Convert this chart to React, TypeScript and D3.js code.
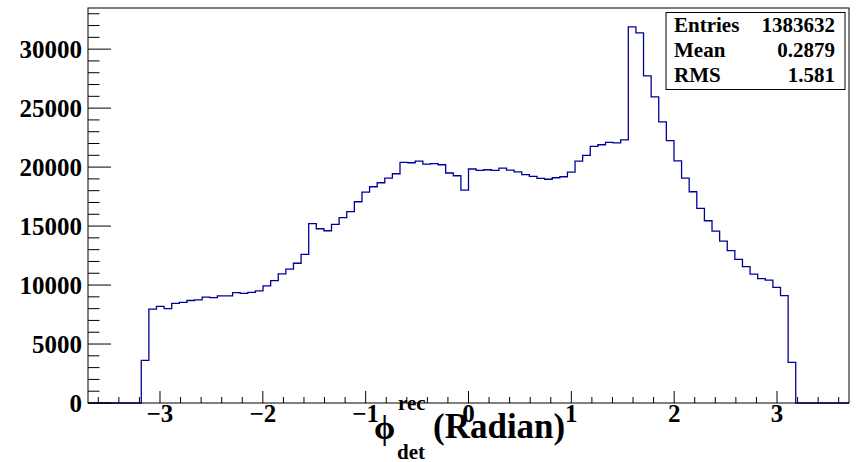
import React from "react";
import * as d3 from "d3";

const xMin = -3.7;
const xMax = 3.7;
const nBins = 100;
const firstBin = 7;
const binValues = [
  3616, 7966, 8200, 7994, 8446, 8531, 8690, 8740, 8970, 8930,
  9080, 9080, 9350, 9294, 9379, 9510, 9925, 10380, 10945, 11350,
  11850, 12599, 15210, 14774, 14604, 15141, 15720, 16230, 17062, 17881,
  18333, 18672, 19068, 19435, 20395, 20367, 20508, 20254, 20290, 20198,
  19500, 19265, 18051, 19840, 19718, 19774, 19718, 19915, 19740, 19600,
  19360, 19220, 19040, 18970, 19096, 19181, 19576, 20508, 20989, 21751,
  21893, 22100, 22045, 22300, 31893, 31384, 27737, 25950, 23842, 22240,
  20520, 19068, 17910, 16497, 15452, 14576, 13729, 12910, 12175, 11554,
  10932, 10537, 10424, 9802, 9096, 3446,
];
const yMax = 33488;
const yMajorTicks = [0, 5000, 10000, 15000, 20000, 25000, 30000];
const yTickLabels = ["0", "5000", "10000", "15000", "20000", "25000", "30000"];
const xMajorTicks = [-3, -2, -1, 0, 1, 2, 3];
const xTickLabels = ["\u22123", "\u22122", "\u22121", "0", "1", "2", "3"];
const statNames = ["Entries", "Mean", "RMS"];
const statValues = ["1383632", "0.2879", "1.581"];

const W = 858;
const H = 462;
const L = 88, R = 849, T = 8, B = 403;
const FONT = "'Liberation Serif', 'Times New Roman', serif";

export default function App() {
  const x = d3.scaleLinear().domain([xMin, xMax]).range([L, R]);
  const y = d3.scaleLinear().domain([0, yMax]).range([B, T]);
  const bw = (xMax - xMin) / nBins;
  const counts: number[] = d3.range(nBins).map((k) => {
    const i = k - firstBin;
    return i >= 0 && i < binValues.length ? binValues[i] : 0;
  });
  const pts: [number, number][] = [];
  counts.forEach((v, k) => {
    pts.push([xMin + k * bw, v]);
    pts.push([xMin + (k + 1) * bw, v]);
  });
  const line = d3
    .line<[number, number]>()
    .x((d) => x(d[0]))
    .y((d) => y(d[1]));
  const path = line(pts) || "";

  const yMinor = d3.range(0, yMax, 1000);
  const xMinor = d3.range(-18, 19).map((i) => i * 0.2).filter((v) => v > xMin && v < xMax);

  return (
    <svg
      width={W}
      height={H}
      style={{ position: "absolute", left: 0, top: 0, background: "#fff" }}
    >
      <rect x={0} y={0} width={W} height={H} fill="#fff" />
      <path d={path} fill="none" stroke="#000099" strokeWidth={1.3} />
      <rect x={L} y={T} width={R - L} height={B - T} fill="none" stroke="#000" strokeWidth={1} />
      {yMinor.map((v) => (
        <line key={"ym" + v} x1={L} x2={L + (v % 5000 === 0 ? 23 : 11.5)} y1={y(v)} y2={y(v)} stroke="#000" strokeWidth={1} />
      ))}
      {xMinor.map((v, i) => {
        const major = Math.abs(v - Math.round(v)) < 1e-6;
        return (
          <line key={"xm" + i} x1={x(v)} x2={x(v)} y1={B} y2={B - (major ? 12 : 6)} stroke="#000" strokeWidth={1} />
        );
      })}
      {yMajorTicks.map((v, i) => (
        <text key={"yl" + v} x={82} y={y(v) + 9} textAnchor="end" fontFamily={FONT} fontWeight="bold" fontSize={25} fill="#000">
          {yTickLabels[i]}
        </text>
      ))}
      {xMajorTicks.map((v, i) => (
        <text key={"xl" + v} x={x(v)} y={422} textAnchor="middle" fontFamily={FONT} fontWeight="bold" fontSize={25} fill="#000">
          {xTickLabels[i]}
        </text>
      ))}
      <text x={374} y={439} fontFamily={FONT} fontWeight="bold" fontSize={34} fill="#000">{"\u03D5"}</text>
      <text x={398} y={410} fontFamily={FONT} fontWeight="bold" fontSize={21} fill="#000">rec</text>
      <text x={397} y={459} fontFamily={FONT} fontWeight="bold" fontSize={21} fill="#000">det</text>
      <text x={433} y={438} fontFamily={FONT} fontWeight="bold" fontSize={35} fill="#000">(Radian)</text>
      <rect x={666} y={12.5} width={179} height={77} fill="#fff" stroke="#000" strokeWidth={1} />
      {statNames.map((n, i) => (
        <g key={n}>
          <text x={674} y={31.5 + i * 25} fontFamily={FONT} fontWeight="bold" fontSize={21} fill="#000">{n}</text>
          <text x={835} y={31.5 + i * 25} textAnchor="end" fontFamily={FONT} fontWeight="bold" fontSize={21} fill="#000">{statValues[i]}</text>
        </g>
      ))}
    </svg>
  );
}
